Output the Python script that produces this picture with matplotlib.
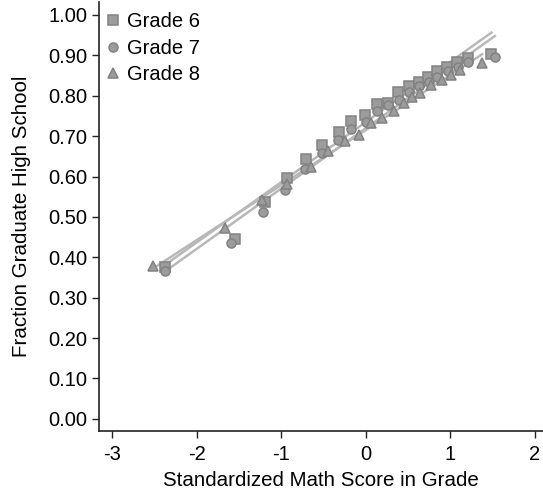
import numpy as np
import matplotlib.pyplot as plt

plt.rcParams['font.family'] = ['Liberation Sans', 'DejaVu Sans']
plt.rcParams['axes.unicode_minus'] = False

# binned means: standardized math score vs. share graduating high school
g6_x = [-2.37, -1.55, -1.19, -0.93, -0.70, -0.51, -0.32, -0.17, -0.01, 0.13,
        0.26, 0.38, 0.51, 0.63, 0.74, 0.85, 0.96, 1.08, 1.21, 1.49]
g6_y = [0.376, 0.445, 0.536, 0.596, 0.643, 0.677, 0.710, 0.737, 0.752, 0.780,
        0.783, 0.810, 0.823, 0.835, 0.847, 0.860, 0.872, 0.883, 0.893, 0.903]

g7_x = [-2.37, -1.59, -1.21, -0.95, -0.72, -0.51, -0.33, -0.17, 0.00, 0.14,
        0.26, 0.40, 0.51, 0.63, 0.75, 0.85, 0.97, 1.09, 1.21, 1.53]
g7_y = [0.367, 0.436, 0.513, 0.567, 0.619, 0.658, 0.691, 0.717, 0.736, 0.762,
        0.777, 0.790, 0.810, 0.823, 0.835, 0.846, 0.860, 0.872, 0.884, 0.895]

g8_x = [-2.52, -1.66, -1.23, -0.93, -0.65, -0.45, -0.24, -0.08, 0.06, 0.20,
        0.34, 0.45, 0.55, 0.65, 0.77, 0.91, 1.01, 1.12, 1.38]
g8_y = [0.378, 0.472, 0.542, 0.581, 0.624, 0.663, 0.688, 0.703, 0.732, 0.744,
        0.762, 0.781, 0.798, 0.806, 0.827, 0.839, 0.851, 0.864, 0.880]

series = [("Grade 6", g6_x, g6_y, "s", 6.5),
          ("Grade 7", g7_x, g7_y, "o", 6.5),
          ("Grade 8", g8_x, g8_y, "^", 7.5)]

fig = plt.figure(figsize=(5.43, 4.94), dpi=100)
ax = fig.add_axes([0.183, 0.1275, 0.817, 0.8685])

# fitted lines first so the markers sit on top
for name, xs, ys, mk, ms in series:
    xs = np.array(xs)
    b, a = np.polyfit(xs, ys, 1)
    xx = np.array([xs.min(), xs.max()])
    ax.plot(xx, a + b * xx, color="#b8b8b8", lw=1.8, zorder=2)

for name, xs, ys, mk, ms in series:
    ax.plot(xs, ys, linestyle="none", marker=mk, ms=ms,
            mfc="#9c9c9c", mec="#828282", mew=1.1, label=name, zorder=3)

ax.set_xlim(-3.15, 2.1)
ax.set_ylim(-0.03, 1.032)
ax.set_xticks([-3, -2, -1, 0, 1, 2])
ax.set_yticks(np.arange(0, 1.01, 0.1))
ax.set_yticklabels([f"{v:.2f}" for v in np.arange(0, 1.01, 0.1)])

for s in ["top", "right"]:
    ax.spines[s].set_visible(False)
for s in ["left", "bottom"]:
    ax.spines[s].set_color("#222222")
    ax.spines[s].set_linewidth(1.2)
ax.tick_params(direction="out", length=5, width=1.0, labelsize=14.5,
               color="#222222")
ax.tick_params(axis="x", pad=5)
ax.tick_params(axis="y", pad=3.5)

ax.set_xlabel("Standardized Math Score in Grade", fontsize=14.8, labelpad=5)
ax.set_ylabel("Fraction Graduate High School", fontsize=14.8, labelpad=12.5)

ax.legend(loc="upper left", frameon=False, fontsize=14.5, handletextpad=0.2,
          borderaxespad=0.0, borderpad=0.3, labelspacing=0.36, handlelength=1.0,
          bbox_to_anchor=(-0.005, 0.99))

fig.savefig("out.png", dpi=100)
